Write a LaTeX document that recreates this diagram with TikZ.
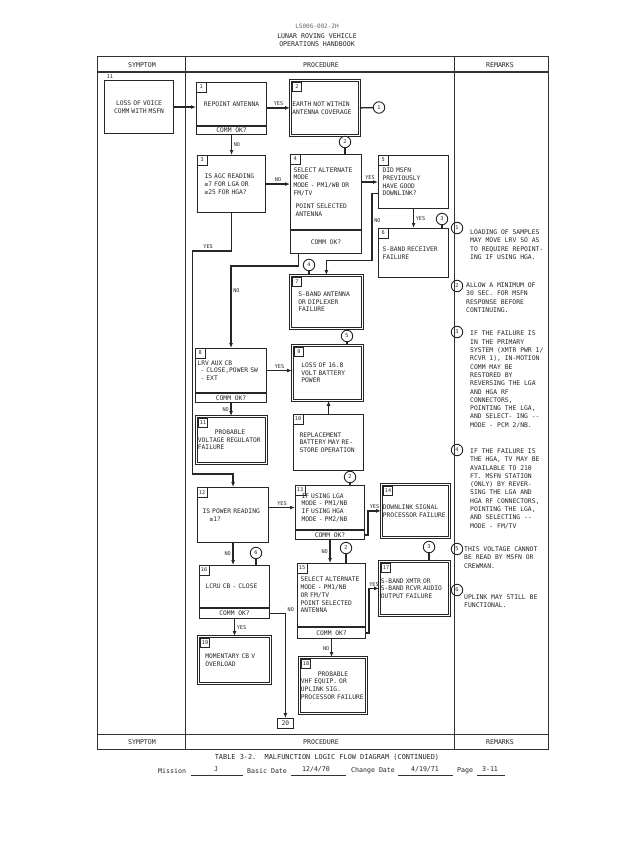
\documentclass[tikz,border=0pt]{standalone}
\usepackage{fontspec}
\setmainfont{DejaVu Sans Mono}
\usetikzlibrary{arrows.meta}

\newcommand\bxfont{\fontsize{6.3}{7.7}\selectfont}
\newcommand\tabfont{\fontsize{5.2}{5.2}\selectfont}
\newcommand\rmkfont{\fontsize{6.4}{8.3}\selectfont}
\newcommand\hdrfont{\fontsize{6.6}{7}\selectfont}

\tikzset{
  blk/.style={draw=black!85, line width=1.1pt, anchor=north west, inner ysep=0pt,
    align=left, font=\bxfont, text=black!85},
  dbl/.style={blk, double, double distance=1.3pt, line width=0.8pt},
  strip/.style={draw=black!85, line width=1.1pt, anchor=north west, inner sep=0pt,
    font=\bxfont, text=black!85},
  tab/.style={draw=black!85, line width=0.7pt, anchor=north west, inner sep=0.5pt,
    minimum height=9.5pt, minimum width=9.5pt, font=\tabfont, text=black!85},
  dtab/.style={tab, xshift=1.9pt, yshift=-1.9pt},
  circ/.style={circle, draw=black!85, line width=0.9pt, minimum size=11.5pt,
    inner sep=0pt, font=\tabfont, text=black!85},
  arr/.style={draw=black!85, line width=1.5pt, -{Latex[length=5pt,width=4pt]}},
  lnk/.style={draw=black!85, line width=1.3pt},
  lbl/.style={font=\tabfont, text=black!85, inner sep=1.5pt},
  rmk/.style={anchor=north west, align=left, inner sep=0pt, font=\rmkfont, text=black!85},
  hdr/.style={font=\hdrfont, inner sep=0pt, text=black!85},
  tbl/.style={draw=black!80, line width=1pt},
}

\begin{document}
\begin{tikzpicture}[x=1pt,y=-1pt]
\useasboundingbox (0,0) rectangle (640,843);
% page heading
\node[hdr, font=\fontsize{6}{6}\selectfont, text=black!60] (docno) at (317,26) {LS006-002-2H};
\node[hdr] (title1) at (317,36) {LUNAR ROVING VEHICLE};
\node[hdr] (title2) at (317,44) {OPERATIONS HANDBOOK};
% table frame
\draw[tbl] (97,57) rectangle (548,749);
\draw[tbl, line width=1.8pt] (97,72) -- (548,72);
\draw[tbl] (97,734) -- (548,734);
\draw[tbl] (185,57) -- (185,749);
\draw[tbl] (454,57) -- (454,749);
\foreach \y in {65,742}{
  \node[hdr] (symh\y) at (142,\y) {SYMPTOM};
  \node[hdr] (proh\y) at (321,\y) {PROCEDURE};
  \node[hdr] (remh\y) at (500,\y) {REMARKS};
}

% symptom
\node[blk, align=center, text width=61pt, inner xsep=4pt, minimum height=53pt] (s11) at (104,80) {LOSS OF VOICE\\COMM WITH MSFN};
\node[lbl, anchor=south west] (s11n) at ([xshift=1pt]s11.north west) {11};

% procedure blocks
\node[blk, align=center, text width=62pt, inner xsep=4pt, minimum height=43pt] (b1) at (196,82) {REPOINT ANTENNA};
\node[strip, minimum width=70pt, minimum height=8pt] (b1c) at (b1.south west) {COMM OK?};
\node[dbl, text width=65pt, inner xsep=2pt, minimum height=55pt] (b2) at (290,80) {EARTH NOT WITHIN\\ANTENNA COVERAGE};
\node[circ] (c1) at (379,107.5) {1};
\node[circ] (c2a) at (345,142) {2};
\node[blk, text width=54pt, inner xsep=7pt, minimum height=57pt] (b3) at (197,155) {IS AGC READING\\≥7 FOR LGA OR\\≥25 FOR HGA?};
\node[blk, text width=65pt, inner xsep=3pt, minimum height=75pt] (b4) at (290,154) {SELECT ALTERNATE\\MODE\\MODE - PM1/WB OR\\FM/TV\\[6pt]\hspace*{2pt}POINT SELECTED\\\hspace*{2pt}ANTENNA};
\node[strip, minimum width=71pt, minimum height=23pt] (b4c) at (b4.south west) {COMM OK?};
\node[blk, text width=62pt, inner xsep=4pt, minimum height=53pt] (b5) at (378,155) {DID MSFN\\PREVIOUSLY\\HAVE GOOD\\DOWNLINK?};
\node[blk, text width=62pt, inner xsep=4pt, minimum height=49pt] (b6) at (378,228) {S-BAND RECEIVER\\FAILURE};
\node[circ] (c3a) at (442,219) {3};
\node[circ] (c4) at (309,265) {4};
\node[dbl, text width=56pt, inner xsep=8pt, minimum height=53pt] (b7) at (290,275) {S-BAND ANTENNA\\OR DIPLEXER\\FAILURE};
\node[blk, text width=67pt, inner xsep=2pt, minimum height=44pt] (b8) at (195,348) {LRV AUX CB\\\hspace*{3pt}- CLOSE,POWER SW\\\hspace*{3pt}- EXT};
\node[strip, minimum width=71pt, minimum height=9pt] (b8c) at (b8.south west) {COMM OK?};
\node[dbl, text width=52pt, inner xsep=9pt, minimum height=55pt] (b9) at (292,345) {LOSS OF 16.8\\VOLT BATTERY\\POWER};
\node[circ] (c5) at (347,336) {5};
\node[blk, text width=58pt, inner xsep=6pt, minimum height=56pt] (b10) at (293,414) {REPLACEMENT\\BATTERY MAY RE-\\STORE OPERATION};
\node[dbl, text width=67pt, inner xsep=1.5pt, minimum height=47pt] (b11) at (196,416) {\hspace*{17pt}PROBABLE\\VOLTAGE REGULATOR\\FAILURE};
\node[circ] (c2b) at (350,477) {2};
\node[blk, text width=61pt, inner xsep=5pt, minimum height=55pt] (b12) at (197,487) {IS POWER READING\\\hspace*{7pt}≥1?};
\node[blk, text width=57pt, inner xsep=6pt, minimum height=44pt] (b13) at (295,485) {IF USING LGA\\MODE - PM1/NB\\IF USING HGA\\MODE - PM2/NB};
\node[strip, minimum width=69pt, minimum height=9pt] (b13c) at (b13.south west) {COMM OK?};
\node[dbl, text width=65pt, inner xsep=1.5pt, minimum height=53pt] (b14) at (381,484) {DOWNLINK SIGNAL\\PROCESSOR FAILURE};
\node[circ] (c2c) at (346,548) {2};
\node[circ] (c3b) at (429,547) {3};
\node[blk, text width=62pt, inner xsep=3pt, minimum height=63pt] (b15) at (297,563) {SELECT ALTERNATE\\MODE - PM1/NB\\OR FM/TV\\POINT SELECTED\\ANTENNA};
\node[strip, minimum width=68pt, minimum height=11pt] (b15c) at (b15.south west) {COMM OK?};
\node[dbl, text width=67pt, inner xsep=1.5pt, minimum height=54pt] (b17) at (379,561) {S-BAND XMTR OR\\S-BAND RCVR AUDIO\\OUTPUT FAILURE};
\node[blk, text width=58pt, inner xsep=6pt, minimum height=42pt] (b16) at (199,565) {LCRU CB - CLOSE};
\node[strip, minimum width=70pt, minimum height=10pt] (b16c) at (b16.south west) {COMM OK?};
\node[circ] (c6) at (256,553) {6};
\node[dbl, text width=58pt, inner xsep=7pt, minimum height=47pt] (b19) at (198,636) {MOMENTARY CB V\\OVERLOAD};
\node[dbl, text width=64pt, inner xsep=1.5pt, minimum height=56pt] (b18) at (299,657) {\hspace*{17pt}PROBABLE\\VHF EQUIP. OR\\UPLINK SIG.\\PROCESSOR FAILURE};
\node[blk, align=center, text width=16pt, inner xsep=0pt, minimum height=10pt, line width=0.8pt] (b20) at (277,718) {20};

% number tabs
\foreach \b in {1,3,4,5,6,8,10,12,13,15,16}
  \node[tab] (n\b) at (b\b.north west) {\b};
\foreach \b in {2,7,9,11,14,17,18,19}
  \node[dtab] (n\b) at (b\b.north west) {\b};

% connectors
\draw[arr] (s11.east) -- (s11.east -| b1.west);
\draw[arr] (b2.west -| b1.east) -- node[lbl,above]{YES} (b2.west);
\draw[lnk] (b2.east) -- (c1);
\draw[arr] (b1c.south) -- node[lbl,right]{NO} (b1c.south |- b3.north);
\draw[lnk] (c2a) -- (c2a |- b4.north);
\draw[arr] (b3.east) -- node[lbl,above]{NO} (b3.east -| b4.west);
\draw[arr] (b5.west -| b4.east) -- node[lbl,above]{YES} (b5.west);
\draw[arr] (b5.south) -- node[lbl,right]{YES} (b5.south |- b6.north);
\draw[lnk] (c3a) -- (c3a |- b6.north);
\draw[arr] ([yshift=-11.5pt]b5.west) -- ++(-6,0) -- ++(0,67) node[lbl,pos=0.4,right]{NO} -| (b7.north);
\draw[arr] ([xshift=-27.5pt]b4c.south) -- ++(0,12) -| node[lbl,pos=0.65,right]{NO} (b8.north);
\draw[lnk] (c4) -- (c4 |- b7.north);
\draw[arr] (b3.south) -- ++(0,38) -- node[lbl,above,pos=0.6]{YES} ++(-39,0) |- ([yshift=13pt]b12.north) -- (b12.north);
\draw[arr] (b8.east) -- node[lbl,above]{YES} (b8.east -| b9.west);
\draw[lnk] (c5) -- (c5 |- b9.north);
\draw[arr] (b10.north) -- (b10.north |- b9.south);
\draw[arr] (b8c.south) -- node[lbl,left]{NO} (b8c.south |- b11.north);
\draw[lnk] (c2b) -- (c2b |- b13.north);
\draw[arr] (b13.west -| b12.east) -- node[lbl,above]{YES} (b13.west);
\draw[arr] (b13c.east) -- ++(3,0) |- node[lbl,pos=0.75,above]{YES} (b14.west);
\draw[arr] (b13c.south) -- node[lbl,left]{NO} (b13c.south |- b15.north);
\draw[lnk] (c2c) -- (c2c |- b15.north);
\draw[lnk] (c3b) -- (c3b |- b17.north);
\draw[arr] (b15c.east) -- ++(3,0) |- node[lbl,pos=0.75,above]{YES} (b17.west);
\draw[arr] (b15c.south) -- node[lbl,left]{NO} (b15c.south |- b18.north);
\draw[arr] (b12.south) -- node[lbl,left]{NO} (b12.south |- b16.north);
\draw[lnk] (c6) -- (c6 |- b16.north);
\draw[arr] (b16c.south) -- node[lbl,right]{YES} (b16c.south |- b19.north);
\draw[arr] (b16c.east) -| node[lbl,pos=0.5,above right]{NO} (b20.north);

% remarks
\foreach \n/\y in {1/228,2/286,3/332,4/450,5/549,6/590}
  \node[circ] (rc\n) at (457,\y) {\n};
\node[rmk] (r1) at (470,229.5) {LOADING OF SAMPLES\\MAY MOVE LRV SO AS\\TO REQUIRE REPOINT-\\ING IF USING HGA.};
\node[rmk] (r2) at (466,282.5) {ALLOW A MINIMUM OF\\30 SEC. FOR MSFN\\RESPONSE BEFORE\\CONTINUING.};
\node[rmk] (r3) at (470,331) {IF THE FAILURE IS\\IN THE PRIMARY\\SYSTEM (XMTR PWR 1/\\RCVR 1), IN-MOTION\\COMM MAY BE\\RESTORED BY\\REVERSING THE LGA\\AND HGA RF\\CONNECTORS,\\POINTING THE LGA,\\AND SELECT- ING -{}-\\MODE - PCM 2/NB.};
\node[rmk] (r4) at (470,448.5) {IF THE FAILURE IS\\THE HGA, TV MAY BE\\AVAILABLE TO 210\\FT. MSFN STATION\\(ONLY) BY REVER-\\SING THE LGA AND\\HGA RF CONNECTORS,\\POINTING THE LGA,\\AND SELECTING -{}-\\MODE - FM/TV};
\node[rmk] (r5) at (464,546.5) {THIS VOLTAGE CANNOT\\BE READ BY MSFN OR\\CREWMAN.};
\node[rmk] (r6) at (464,594.5) {UPLINK MAY STILL BE\\FUNCTIONAL.};

% caption and page line
\node[hdr, font=\fontsize{6.9}{7}\selectfont] (cap) at (327,757) {TABLE 3-2.\ \ MALFUNCTION LOGIC FLOW DIAGRAM (CONTINUED)};
\node[hdr, anchor=west] (msn) at (158,771) {Mission};
\node[hdr] (msnv) at (216,769.5) {J};
\node[hdr, anchor=west] (bdt) at (247,771) {Basic Date};
\node[hdr] (bdtv) at (316,769.5) {12/4/70};
\node[hdr, anchor=west] (cdt) at (351,771) {Change Date};
\node[hdr] (cdtv) at (425,769.5) {4/19/71};
\node[hdr, anchor=west] (pg) at (457,771) {Page};
\node[hdr] (pgv) at (490,769.5) {3-11};
\foreach \a/\b in {191/243,291/346,398/453,477/505}
  \draw[draw=black!80, line width=0.6pt] (\a,775) -- (\b,775);
\end{tikzpicture}
\end{document}
